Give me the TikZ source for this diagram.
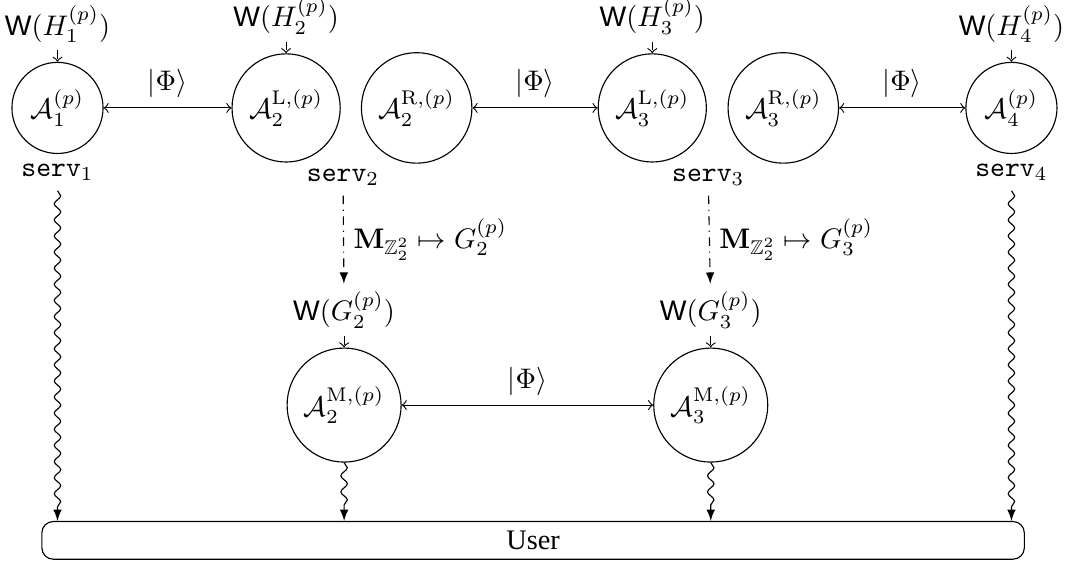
\documentclass[tikz,border=0pt]{standalone}
\usepackage{amsmath,amssymb}
\usepackage[no-math]{fontspec}
\setmainfont{Liberation Serif}
\setsansfont{Liberation Sans}
\usetikzlibrary{positioning,decorations.pathmorphing}
\tikzset{
  party/.style={draw,circle},
  wlabel/.style={inner sep=2.5pt},
  feed/.style={->,dashed},
  link/.style={<->},
  outwave/.style={-latex,decorate,decoration={snake,segment length=2mm,amplitude=.4mm,post length=1mm}},
}
\begin{document}
\begin{tikzpicture}
\useasboundingbox (0,0) rectangle (13.25,-7.03);
%row heights
\pgfmathsetmacro{\yT}{-1.34}
\pgfmathsetmacro{\yM}{-5.03}
\pgfmathsetmacro{\yU}{-6.71}
%top row of parties
\node[party] (A1) at (0.714,\yT) {$\mathcal{A}_1^{(p)}$};
\node[party] (A2L) at (3.553,\yT) {$\mathcal{A}_2^{\mathrm{L},(p)}$};
\node[party] (A2R) at (5.174,\yT) {$\mathcal{A}_2^{\mathrm{R},(p)}$};
\node[party] (A3L) at (8.10,\yT) {$\mathcal{A}_3^{\mathrm{L},(p)}$};
\node[party] (A3R) at (9.727,\yT) {$\mathcal{A}_3^{\mathrm{R},(p)}$};
\node[party] (A4) at (12.56,\yT) {$\mathcal{A}_4^{(p)}$};
%middle row
\node[party] (A2M) at (4.273,\yM) {$\mathcal{A}_2^{\mathrm{M},(p)}$};
\node[party] (A3M) at (8.826,\yM) {$\mathcal{A}_3^{\mathrm{M},(p)}$};
%user
\node[draw,rounded corners,minimum width=12.2cm,minimum height=0.41cm] (U) at (6.62,\yU) {User};
%----------------------
%inputs W(.)
\node[wlabel,above=4pt of A1] (WH1) {$\textsf{W}(H_1^{(p)})$};
\node[wlabel,above=4pt of A2L] (WH2) {$\textsf{W}(H_2^{(p)})$};
\node[wlabel,above=4pt of A3L] (WH3) {$\textsf{W}(H_3^{(p)})$};
\node[wlabel,above=4pt of A4] (WH4) {$\textsf{W}(H_4^{(p)})$};
\node[wlabel,above=4pt of A2M] (WG2) {$\textsf{W}(G_2^{(p)})$};
\node[wlabel,above=4pt of A3M] (WG3) {$\textsf{W}(G_3^{(p)})$};
\draw[feed] (WH1) -- (A1);
\draw[feed] (WH2) -- (A2L);
\draw[feed] (WH3) -- (A3L);
\draw[feed] (WH4) -- (A4);
\draw[feed] (WG2) -- (A2M);
\draw[feed] (WG3) -- (A3M);
%servers
\node[below=0pt of A1] (S1) {\texttt{serv}$_1$};
\node (S2) at (4.26,-2.2) {\texttt{serv}$_2$};
\node (S3) at (8.795,-2.2) {\texttt{serv}$_3$};
\node[below=0pt of A4] (S4) {\texttt{serv}$_4$};
%========================
%shared states
\draw[link] (A1) -- node[above]{$|\Phi\rangle$} (A2L);
\draw[link] (A2R) -- node[above]{$|\Phi\rangle$} (A3L);
\draw[link] (A3R) -- node[above]{$|\Phi\rangle$} (A4);
\draw[link] (A2M) -- node[above]{$|\Phi\rangle$} (A3M);
%measurements
\draw[-latex,dash dot] (S2) -- node[right]{$\mathbf{M}_{\mathbb{Z}_2^2}\mapsto G_2^{(p)}$} (WG2);
\draw[-latex,dash dot] (S3) -- node[right]{$\mathbf{M}_{\mathbb{Z}_2^2}\mapsto G_3^{(p)}$} (WG3);
%outputs to user
\draw[outwave] (S1) -- (S1 |- U.north);
\draw[outwave] (A2M) -- (A2M |- U.north);
\draw[outwave] (A3M) -- (A3M |- U.north);
\draw[outwave] (S4) -- (S4 |- U.north);
\end{tikzpicture}
\end{document}
